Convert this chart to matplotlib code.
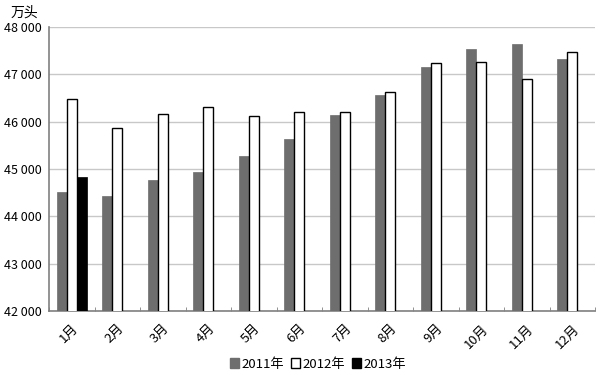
import numpy as np
import matplotlib
matplotlib.use('Agg')
import matplotlib.pyplot as plt
from matplotlib.ticker import FuncFormatter
from matplotlib.patches import Patch

plt.rcParams['font.family'] = ['Noto Sans CJK SC', 'DejaVu Sans']

months = ['1月', '2月', '3月', '4月', '5月', '6月', '7月', '8月', '9月', '10月', '11月', '12月']
vals_2011 = [44520, 44430, 44770, 44940, 45280, 45640, 46140, 46560, 47160, 47540, 47640, 47330]
vals_2012 = [46480, 45870, 46170, 46310, 46120, 46210, 46210, 46630, 47240, 47260, 46900, 47480]
vals_2013 = [44830]
series_names = ['2011年', '2012年', '2013年']
yticks = [42000, 43000, 44000, 45000, 46000, 47000, 48000]

c2011 = '#6e6e6e'
c2012 = 'white'
c2013 = 'black'

fig = plt.figure(figsize=(6, 3.75), dpi=100)
ax = fig.add_axes([0.0817, 0.171, 0.91, 0.757])

x = np.arange(len(months))
w = 0.22
ax.bar(x - w, vals_2011, width=w, color=c2011, edgecolor=c2011, linewidth=0.5, zorder=3)
ax.bar(x, vals_2012, width=w, color=c2012, edgecolor='black', linewidth=1.0, zorder=3)
ax.bar(x[:len(vals_2013)] + w, vals_2013, width=w, color=c2013, edgecolor='black', linewidth=0.5, zorder=3)

ax.set_xlim(-0.5, len(months) - 0.5)
ax.set_ylim(yticks[0], yticks[-1])
ax.set_yticks(yticks)
ax.yaxis.set_major_formatter(FuncFormatter(lambda v, p: f'{int(v):,}'.replace(',', ' ')))
ax.grid(axis='y', color='#c8c8c8', linewidth=1.0, zorder=0)

for s in ['top', 'right']:
    ax.spines[s].set_visible(False)
ax.spines['left'].set_color('#808080')
ax.spines['bottom'].set_color('#808080')
ax.spines['left'].set_linewidth(1.2)
ax.spines['bottom'].set_linewidth(1.2)

ax.set_xticks(np.arange(len(months) + 1) - 0.5, minor=True)
ax.set_xticks(x)
ax.set_xticklabels(months, rotation=45, ha='right', va='top', rotation_mode='anchor', fontsize=9.5)
ax.tick_params(axis='x', which='major', length=0, pad=8)
ax.tick_params(axis='x', which='minor', direction='in', length=3, color='#808080')
ax.tick_params(axis='y', length=0, pad=5, labelsize=9)

fig.text(0.017, 0.985, '万头', fontsize=10, va='top', ha='left')

handles = [Patch(facecolor=c2011, edgecolor=c2011),
           Patch(facecolor=c2012, edgecolor='black'),
           Patch(facecolor=c2013, edgecolor='black')]
fig.legend(handles, series_names, loc='lower center', bbox_to_anchor=(0.53, -0.02), ncol=3,
           frameon=False, fontsize=9.5, handlelength=0.7, handleheight=0.7,
           handletextpad=0.2, columnspacing=0.5)

fig.savefig('out.png', dpi=100)
